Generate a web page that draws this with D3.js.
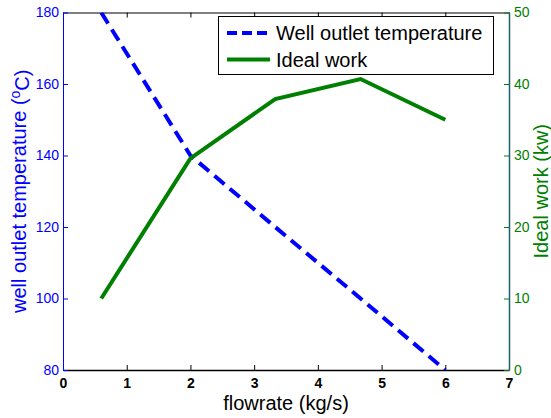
<!DOCTYPE html>
<html>
<head>
<meta charset="utf-8">
<script src="https://cdn.jsdelivr.net/npm/d3@7"></script>
<style>
  html, body { margin: 0; padding: 0; background: #fff; }
  svg { display: block; font-family: "Liberation Sans", Arial, sans-serif; }
</style>
</head>
<body>
<svg id="chart" width="551" height="418"></svg>
<script>
// Flow rate samples (kg/s)
const flowrate = [0.6, 2, 3.33, 4.67, 6];
// Well outlet temperature (°C), left axis
const outletTemp = [180, 140, 120, 100, 80];
// Ideal work (kW), right axis
const idealWork = [10, 29.6, 37.9, 40.7, 35];

const xTicks = [0, 1, 2, 3, 4, 5, 6, 7];
const leftTicks = [80, 100, 120, 140, 160, 180];
const rightTicks = [0, 10, 20, 30, 40, 50];

const BLUE = "#0000ff";
const GREEN = "#008000";
const RIGHT_AXIS = "#1d6072";
const FONT = "Liberation Sans, Arial, sans-serif";

const svg = d3.select("#chart");
const m = { left: 63, right: 509, top: 12.5, bottom: 370 };

const x = d3.scaleLinear().domain([0, 7]).range([m.left, m.right]);
const yL = d3.scaleLinear().domain([80, 180]).range([m.bottom, m.top]);
const yR = d3.scaleLinear().domain([0, 50]).range([m.bottom, m.top]);

svg.append("clipPath").attr("id", "plotClip")
  .append("rect").attr("x", m.left).attr("y", m.top)
  .attr("width", m.right - m.left).attr("height", m.bottom - m.top);

// Top frame with inward ticks
const topAxis = svg.append("g").attr("transform", `translate(0,${m.top})`)
  .call(d3.axisTop(x).tickValues(xTicks).tickSizeInner(-5).tickSizeOuter(0).tickFormat(""));
topAxis.select(".domain").attr("stroke", "#000").attr("stroke-width", 1);
topAxis.selectAll(".tick line").attr("stroke", "#000");

// Bottom axis
const bottomAxis = svg.append("g").attr("transform", `translate(0,${m.bottom})`)
  .call(d3.axisBottom(x).tickValues(xTicks).tickFormat(d3.format("d"))
    .tickSizeInner(-5).tickSizeOuter(0).tickPadding(8));
bottomAxis.select(".domain").attr("stroke", "#000").attr("stroke-width", 1.5);
bottomAxis.selectAll(".tick line").attr("stroke", "#000");
bottomAxis.selectAll(".tick text").attr("fill", "#000").style("font-size", "14px")
  .style("font-weight", "bold").style("font-family", FONT);

// Left axis (temperature)
const leftAxis = svg.append("g").attr("transform", `translate(${m.left},0)`)
  .call(d3.axisLeft(yL).tickValues(leftTicks).tickSizeInner(-5).tickSizeOuter(0).tickPadding(4));
leftAxis.select(".domain").attr("stroke", BLUE).attr("stroke-width", 1);
leftAxis.selectAll(".tick line").attr("stroke", BLUE);
leftAxis.selectAll(".tick text").attr("fill", BLUE).style("font-size", "14px")
  .style("font-family", FONT);

// Right axis (ideal work)
const rightAxis = svg.append("g").attr("transform", `translate(${m.right},0)`)
  .call(d3.axisRight(yR).tickValues(rightTicks).tickSizeInner(-5).tickSizeOuter(0).tickPadding(5));
rightAxis.select(".domain").attr("stroke", RIGHT_AXIS).attr("stroke-width", 1.5);
rightAxis.selectAll(".tick line").attr("stroke", GREEN);
rightAxis.selectAll(".tick text").attr("fill", GREEN).style("font-size", "14px")
  .style("font-family", FONT);

// Series
const plot = svg.append("g").attr("clip-path", "url(#plotClip)");

const tempLine = d3.line().x((d, i) => x(flowrate[i])).y(d => yL(d));
plot.append("path").datum(outletTemp)
  .attr("d", tempLine)
  .attr("fill", "none").attr("stroke", BLUE).attr("stroke-width", 4)
  .attr("stroke-dasharray", "13,7");

const workLine = d3.line().x((d, i) => x(flowrate[i])).y(d => yR(d));
plot.append("path").datum(idealWork)
  .attr("d", workLine)
  .attr("fill", "none").attr("stroke", GREEN).attr("stroke-width", 4)
  .attr("stroke-linejoin", "miter");

// Axis titles
svg.append("text")
  .attr("x", (m.left + m.right) / 2).attr("y", 410)
  .attr("text-anchor", "middle").style("font-size", "20px").attr("fill", "#000")
  .text("flowrate (kg/s)");

const lt = svg.append("text")
  .attr("transform", `translate(26,${(m.top + m.bottom) / 2}) rotate(-90)`)
  .attr("text-anchor", "middle").style("font-size", "20px").attr("fill", BLUE);
lt.append("tspan").text("well outlet temperature (");
lt.append("tspan").attr("dy", "-0.45em").style("font-size", "14px").text("o");
lt.append("tspan").attr("dy", "0.45em").text("C)");

svg.append("text")
  .attr("transform", `translate(548,${(m.top + m.bottom) / 2}) rotate(-90)`)
  .attr("text-anchor", "middle").style("font-size", "20px").attr("fill", GREEN)
  .text("Ideal work (kw)");

// Legend
const lg = svg.append("g");
lg.append("rect").attr("x", 218.5).attr("y", 16.5).attr("width", 275).attr("height", 58)
  .attr("fill", "#fff").attr("stroke", "#000").attr("stroke-width", 1);
const legendItems = [
  { label: "Well outlet temperature", color: BLUE, dash: "10,5", y: 33 },
  { label: "Ideal work", color: GREEN, dash: null, y: 59.5 }
];
legendItems.forEach(it => {
  lg.append("line").attr("x1", 227).attr("x2", 270).attr("y1", it.y).attr("y2", it.y)
    .attr("stroke", it.color).attr("stroke-width", 4)
    .attr("stroke-dasharray", it.dash);
  lg.append("text").attr("x", 276).attr("y", it.y + 7)
    .style("font-size", "20px").attr("fill", "#000").text(it.label);
});
</script>
</body>
</html>
